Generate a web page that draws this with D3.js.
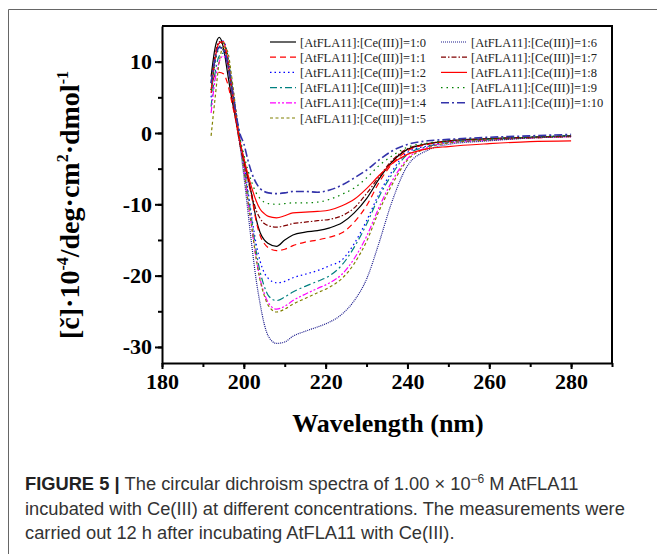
<!DOCTYPE html>
<html>
  <head>
    <meta charset="utf-8" />
    <title>CD spectra AtFLA11 + Ce(III)</title>
    <script src="https://d3js.org/d3.v7.min.js"></script>
    <style>
      body { margin: 0; background: #fff; }
      svg { display: block; }
      .axis path, .axis line { stroke: #000; stroke-width: 2; }
      .axis text { font-family: "Liberation Serif", serif; font-weight: bold; font-size: 22px; fill: #000; }
      .legend text { font-family: "Liberation Serif", serif; font-size: 12.5px; fill: #222; }
      .caption { font-family: "Liberation Sans", Arial, sans-serif; font-size: 18.3px; fill: #333; }
    </style>
  </head>
  <body>
    <div id="chart"></div>
    <script>
      // wavelength grid (nm)
      const wavelengths = [192, 193, 194, 195, 196, 197, 198, 199, 200, 201, 202, 203, 204, 205, 206, 208,
        210, 212, 215, 218, 221, 224, 227, 230, 233, 236, 240, 245, 250, 260, 270, 280];

      const ratios = ["1:0", "1:1", "1:2", "1:3", "1:4", "1:5", "1:6", "1:7", "1:8", "1:9", "1:10"];

      // ellipticity values (x10^4 deg cm2 dmol-1)
      const r0 = [7.9, 12, 13.4, 12, 8.5, 5, 2, -1, -3.8, -6.2, -8.9, -12, -14, -15, -15.5, -15.9, -15, -14.3, -13.9, -13.7, -13.3, -12.6, -11.2, -9.2, -6.5, -4.2, -2.3, -1.5, -1.1, -0.8, -0.6, -0.4];
      const r1 = [6, 8.2, 8.5, 8.3, 7, 4.5, 1.8, -1.2, -4, -6.5, -9.2, -12.3, -14.4, -15.5, -16.1, -16.5, -16.3, -15.8, -15.3, -15, -14.6, -14, -12.5, -10.2, -7, -4.5, -2.5, -1.6, -1.2, -0.9, -0.7, -0.5];
      const r2 = [5, 10, 12.6, 12.9, 11, 7.5, 3.5, -0.5, -4, -8, -12, -15.5, -18, -19.6, -20.4, -21, -20.8, -20.3, -19.8, -19.3, -18.6, -17.8, -15.5, -12.3, -8.6, -5.6, -2.7, -1.8, -1.3, -0.9, -0.6, -0.4];
      const r3 = [3.7, 8.5, 10.8, 11.2, 10, 7, 3, -1, -4.5, -8.5, -12.5, -16.5, -19.5, -21.5, -22.8, -23.5, -23, -22.3, -21.5, -20.8, -20, -18.5, -16, -12.8, -9, -6, -3, -1.9, -1.3, -0.9, -0.6, -0.4];
      const r4 = [2.8, 7.5, 10, 10.8, 9.8, 7, 3, -1, -5, -9.5, -13.5, -17.5, -20.5, -22.5, -23.8, -24.7, -24.3, -23.5, -22.6, -21.8, -21, -19.8, -17.6, -14.5, -10.5, -7, -3.6, -2, -1.4, -1, -0.7, -0.5];
      const r5 = [-0.4, 5, 10, 12, 11.5, 8, 3.5, -1, -5, -9.5, -13.5, -17.5, -20.7, -22.8, -24.2, -25.1, -24.7, -24, -23.2, -22.4, -21.6, -20.4, -18.3, -15.2, -11, -7.5, -3.8, -2.1, -1.4, -1, -0.7, -0.5];
      const r6 = [6, 10.5, 12, 11.5, 9.5, 6, 2.5, -1.5, -6, -11, -16, -20.5, -24, -26.8, -28.5, -29.5, -29.3, -28.5, -27.8, -27.2, -26.5, -25.4, -23.5, -20.5, -15.5, -10, -4.6, -2.4, -1.6, -1.1, -0.7, -0.5];
      const r7 = [7, 11, 12.8, 12.3, 10, 6, 2, -1.5, -4, -6.5, -8.8, -10.8, -12, -12.7, -13, -13.2, -13, -12.7, -12.5, -12.3, -12.1, -11.6, -10.5, -8.5, -6.2, -4, -2.2, -1.5, -1.1, -0.8, -0.6, -0.4];
      const r8 = [5.6, 10.5, 12.6, 12.8, 10.5, 6.5, 2.5, -1, -3.5, -5.8, -7.8, -9.5, -10.7, -11.3, -11.7, -11.9, -11.6, -11.2, -11.1, -11, -10.8, -10.2, -9.3, -7.8, -6, -4.4, -3, -2.2, -1.9, -1.5, -1.2, -1.1];
      const r9 = [6, 10, 12, 12.6, 11, 7, 3, -0.5, -3, -5.2, -7, -8.4, -9.2, -9.7, -9.9, -10, -9.9, -9.8, -9.8, -9.7, -9.3, -8.6, -7.7, -6.3, -4.6, -3.3, -2, -1.4, -1.1, -0.8, -0.6, -0.4];
      const r10 = [7, 10.5, 12, 11.8, 10, 6.5, 3, 0, -1.5, -3.8, -5.7, -7, -7.8, -8.2, -8.4, -8.5, -8.4, -8.2, -8.2, -8.3, -8.0, -7.3, -6.3, -5.2, -3.8, -2.6, -1.6, -1.1, -0.9, -0.6, -0.4, -0.2];
      const values = [r0, r1, r2, r3, r4, r5, r6, r7, r8, r9, r10];

      const colors = ["#000000", "#ff0000", "#0000ff", "#008080", "#ff00ff", "#808000",
        "#1a1a8c", "#800000", "#ff0000", "#008000", "#3333aa"];
      const dashes = ["none", "6,4", "1.5,3", "7,3,2,3", "6,2,2,2,2,2", "3,2.5",
        "1,1", "5,2,1.5,2", "none", "1.5,4", "8,3,2,3"];

      const xTicks = [180, 200, 220, 240, 260, 280];
      const yTicks = [-30, -20, -10, 0, 10];

      const width = 657, height = 554;
      const svg = d3.select("#chart").append("svg")
        .attr("width", width).attr("height", height);

      // outer figure frame
      svg.append("path").attr("d", "M8.5,554 V9.5 H657")
        .attr("fill", "none").attr("stroke", "#666").attr("stroke-width", 1);

      const plot = { left: 162, right: 612, top: 26, bottom: 363 };
      const x = d3.scaleLinear().domain([180, 290]).range([plot.left, plot.right]);
      const y = d3.scaleLinear().domain([-32.25, 15]).range([plot.bottom, plot.top]);

      // x axis with minor ticks
      svg.append("g").attr("class", "axis")
        .attr("transform", `translate(0,${plot.bottom})`)
        .call(d3.axisBottom(x).tickValues(d3.range(180, 291, 10)).tickSize(4).tickFormat("").tickSizeOuter(0));
      svg.append("g").attr("class", "axis")
        .attr("transform", `translate(0,${plot.bottom})`)
        .call(d3.axisBottom(x).tickValues(xTicks).tickSize(6).tickPadding(4).tickSizeOuter(0))
        .call(g => g.select(".domain").remove());

      svg.append("g").attr("class", "axis")
        .attr("transform", `translate(${plot.left},0)`)
        .call(d3.axisLeft(y).tickValues(d3.range(-30, 15, 5)).tickSize(4).tickFormat("").tickSizeOuter(0));
      svg.append("g").attr("class", "axis")
        .attr("transform", `translate(${plot.left},0)`)
        .call(d3.axisLeft(y).tickValues(yTicks).tickSize(7).tickPadding(3).tickSizeOuter(0)
          .tickFormat(d => String(d)))
        .call(g => g.select(".domain").remove());

      // top and right frame
      svg.append("path")
        .attr("d", `M${plot.left},${plot.top} H${plot.right} V${plot.bottom}`)
        .attr("fill", "none").attr("stroke", "#000").attr("stroke-width", 2);

      // spectra
      const line = d3.line()
        .x((d, i) => x(wavelengths[i]))
        .y(d => y(d))
        .curve(d3.curveMonotoneX);

      svg.append("g").selectAll("path")
        .data(values)
        .join("path")
        .attr("d", line)
        .attr("fill", "none")
        .attr("stroke", (d, i) => colors[i])
        .attr("stroke-width", (d, i) => i === 10 ? 1.6 : 1.2)
        .attr("stroke-dasharray", (d, i) => dashes[i]);

      // legend
      const legend = svg.append("g").attr("class", "legend");
      ratios.forEach((r, i) => {
        const col = i < 6 ? 0 : 1;
        const row = i < 6 ? i : i - 6;
        const lx = col === 0 ? 270 : 441;
        const ly = 42 + row * 15.2;
        legend.append("line")
          .attr("x1", lx).attr("x2", lx + 26).attr("y1", ly).attr("y2", ly)
          .attr("stroke", colors[i]).attr("stroke-width", i === 10 ? 1.6 : 1.2)
          .attr("stroke-dasharray", dashes[i]);
        legend.append("text")
          .attr("x", lx + 30).attr("y", ly + 4.5)
          .text(`[AtFLA11]:[Ce(III)]=${r}`);
      });

      // axis titles
      svg.append("text")
        .attr("x", 388).attr("y", 432)
        .attr("text-anchor", "middle")
        .style("font-family", "Liberation Serif, serif")
        .style("font-weight", "bold").style("font-size", "26px")
        .text("Wavelength (nm)");

      const yt = svg.append("text")
        .attr("transform", "translate(79,205) rotate(-90)")
        .attr("text-anchor", "middle")
        .style("font-family", "Liberation Serif, serif")
        .style("font-weight", "bold").style("font-size", "28px");
      yt.append("tspan").text("[č]·10");
      yt.append("tspan").attr("dy", -11).style("font-size", "16px").text("-4");
      yt.append("tspan").attr("dy", 11).text("/deg·cm");
      yt.append("tspan").attr("dy", -11).style("font-size", "16px").text("2");
      yt.append("tspan").attr("dy", 11).text("·dmol");
      yt.append("tspan").attr("dy", -11).style("font-size", "16px").text("-1");

      // caption
      const cap = svg.append("g").attr("class", "caption");
      const l1 = cap.append("text").attr("class", "caption").attr("x", 25).attr("y", 490);
      l1.append("tspan").style("font-weight", "bold").style("fill", "#222").text("FIGURE 5 | ");
      l1.append("tspan").text("The circular dichroism spectra of 1.00 × 10");
      l1.append("tspan").attr("dy", -7).style("font-size", "12px").text("−6");
      l1.append("tspan").attr("dy", 7).text(" M AtFLA11");
      cap.append("text").attr("class", "caption").attr("x", 25).attr("y", 514.5)
        .text("incubated with Ce(III) at different concentrations. The measurements were");
      cap.append("text").attr("class", "caption").attr("x", 25).attr("y", 539)
        .text("carried out 12 h after incubating AtFLA11 with Ce(III).");
    </script>
  </body>
</html>
